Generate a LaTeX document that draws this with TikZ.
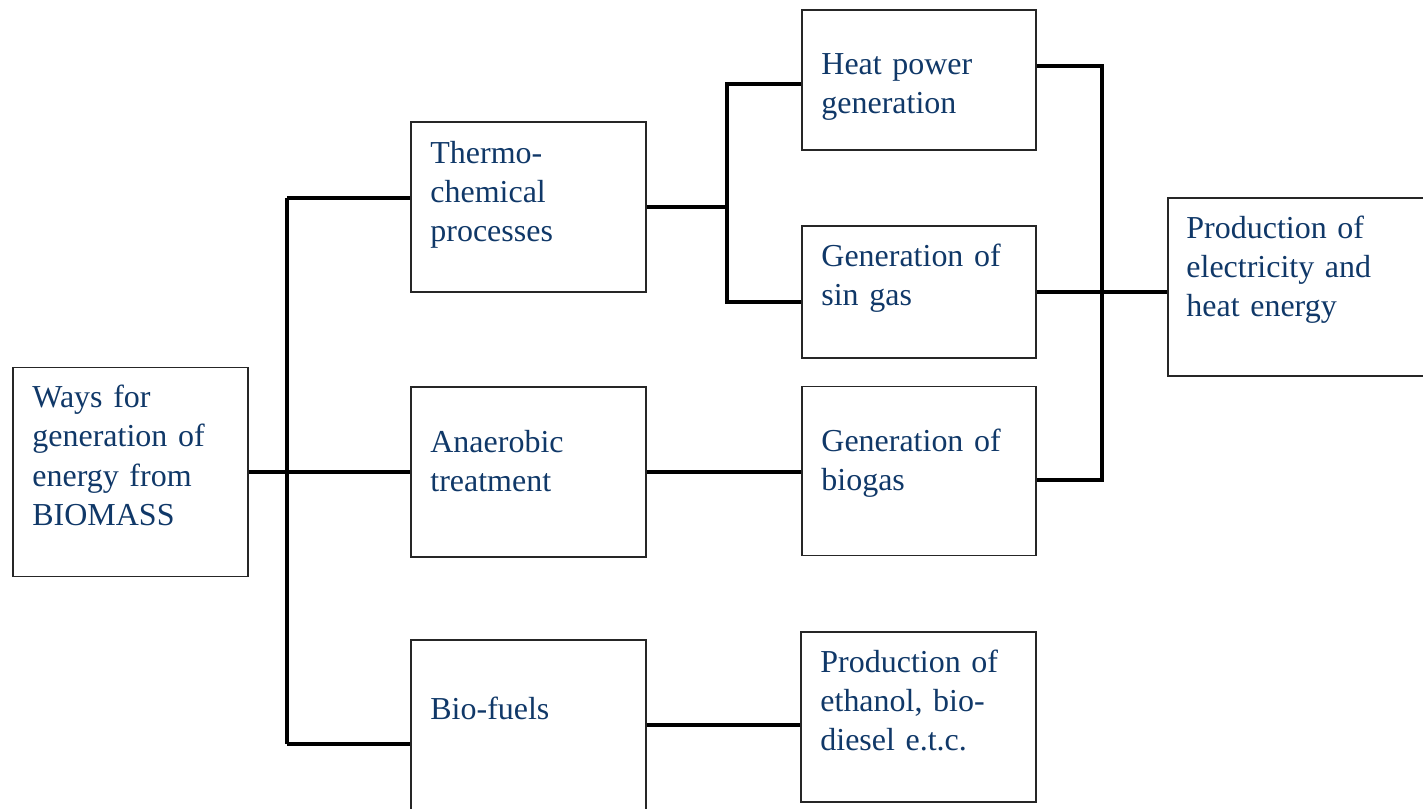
\documentclass[tikz,border=0pt]{standalone}
\usepackage{fontspec}
\setmainfont{Liberation Serif}
\definecolor{textblue}{RGB}{16,56,104}

\begin{document}
\begin{tikzpicture}[x=0.02cm, y=-0.02cm,
    box/.style={draw=black!85, line width=1.1pt, minimum width=4.7cm, minimum height=3.4cm, inner sep=0pt},
    txt/.style={anchor=base west, align=left, text width=4.4cm, text=textblue, inner sep=0pt, font=\fontsize{18.2pt}{22.4pt}\selectfont},
    link/.style={line width=2pt}]
    \useasboundingbox (0,0) rectangle (1423,808);

    \node[box, minimum height=4.18cm] (ways) at (130.5, 472) {};
    \node[box] (thermo) at (528.5, 207) {};
    \node[box] (anaer) at (528.5, 472) {};
    \node[box] (biofuel) at (528.5, 725) {};
    \node[box, minimum width=4.68cm, minimum height=2.8cm] (heat) at (919, 80) {};
    \node[box, minimum width=4.68cm, minimum height=2.64cm] (singas) at (919, 292) {};
    \node[box, minimum width=4.68cm, minimum height=3.38cm] (biogas) at (919, 471) {};
    \node[box] (ethanol) at (918.5, 717) {};
    \node[box, minimum width=5.24cm, minimum height=3.56cm] (product) at (1299, 287) {};

    % texts
    \node[txt] (ways-t) at ([xshift=0.4cm, yshift=-0.82cm]ways.north west) {Ways for\\generation of\\energy from\\BIOMASS};
    \node[txt] (thermo-t) at ([xshift=0.4cm, yshift=-0.84cm]thermo.north west) {Thermo-\\chemical\\processes};
    \node[txt] (anaer-t) at ([xshift=0.4cm, yshift=-1.32cm]anaer.north west) {Anaerobic\\treatment};
    \node[txt] (biofuel-t) at ([xshift=0.4cm, yshift=-1.6cm]biofuel.north west) {Bio-fuels};
    \node[txt] (heat-t) at ([xshift=0.4cm, yshift=-1.3cm]heat.north west) {Heat power\\generation};
    \node[txt] (singas-t) at ([xshift=0.4cm, yshift=-0.82cm]singas.north west) {Generation of\\sin gas};
    \node[txt] (biogas-t) at ([xshift=0.4cm, yshift=-1.32cm]biogas.north west) {Generation of\\biogas};
    \node[txt] (ethanol-t) at ([xshift=0.4cm, yshift=-0.82cm]ethanol.north west) {Production of\\ethanol, bio-\\diesel e.t.c.};
    \node[txt] (product-t) at ([xshift=0.38cm, yshift=-0.82cm]product.north west) {Production of\\electricity and\\heat energy};

    \coordinate (j1top) at (287, 198);
    \coordinate (j1bot) at (287, 744);
    \coordinate (j2top) at (727, 84);
    \coordinate (j2bot) at (727, 302);
    \coordinate (j3top) at (1102, 66);
    \coordinate (j3bot) at (1102, 480);

    \draw[link] (ways.east) -- (ways.east -| j1top);
    \draw[link] (j1top) -- (j1bot);
    \draw[link] (j1top) -- (j1top -| thermo.west);
    \draw[link] (anaer.west -| j1top) -- (anaer.west);
    \draw[link] (j1bot) -- (j1bot -| biofuel.west);
    \draw[link] (thermo.east) -- (thermo.east -| j2top);
    \draw[link] (j2top -| heat.west) -- (j2top) -- (j2bot) -- (j2bot -| singas.west);
    \draw[link] (anaer.east) -- (anaer.east -| biogas.west);
    \draw[link] (biofuel.east) -- (biofuel.east -| ethanol.west);
    \draw[link] (heat.east |- j3top) -- (j3top) -- (j3bot) -- (j3bot -| biogas.east);
    \draw[link] (singas.east) -- (singas.east -| product.west);
  \end{tikzpicture}
\end{document}
